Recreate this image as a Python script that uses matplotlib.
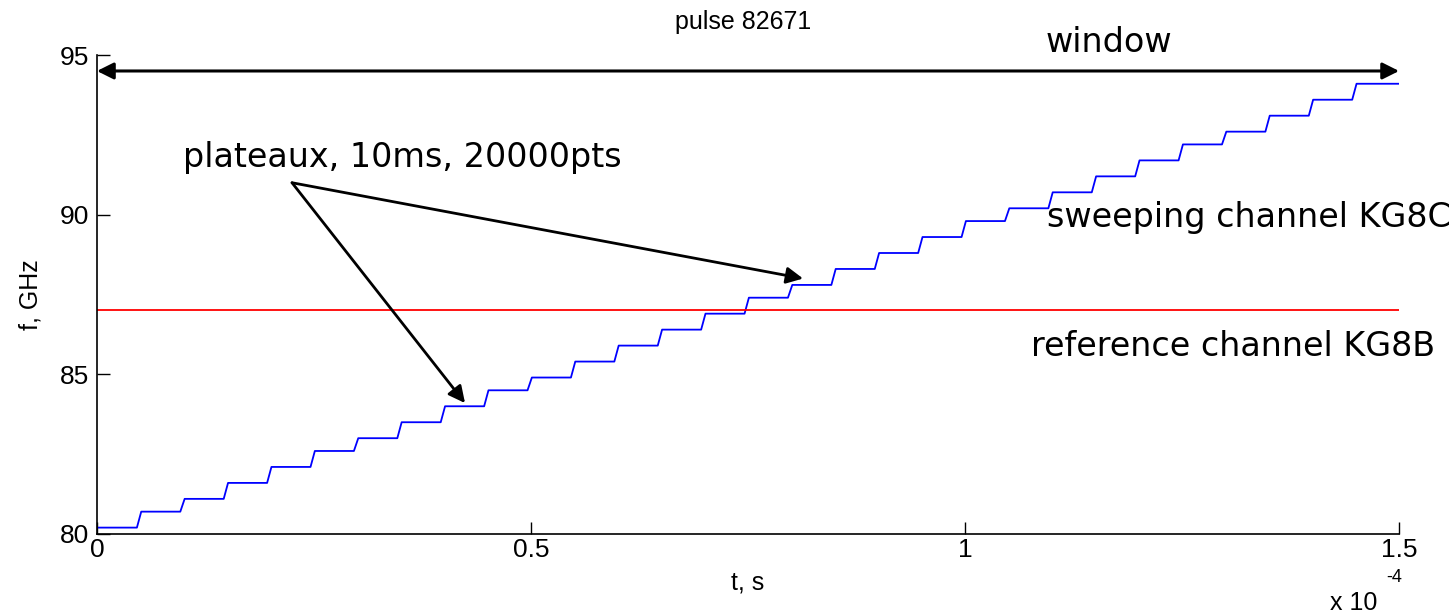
import matplotlib
matplotlib.use("Agg")
import matplotlib.pyplot as plt
import numpy as np

# ---- data ----
# plateau start times (microseconds) and frequency levels (GHz) of the sweeping channel
plateau_start_us = [0, 5, 10, 15, 20, 25, 30, 35, 40, 45,
                    50, 55, 60, 65, 70, 75, 80, 85, 90, 95,
                    100, 105, 110, 115, 120, 125, 130, 135, 140, 145]
plateau_level_ghz = [80.2, 80.7, 81.1, 81.6, 82.1, 82.6, 83.0, 83.5, 84.0, 84.5,
                     84.9, 85.4, 85.9, 86.4, 86.9, 87.4, 87.8, 88.3, 88.8, 89.3,
                     89.8, 90.2, 90.7, 91.2, 91.7, 92.2, 92.6, 93.1, 93.6, 94.1]
ramp_us = 0.5          # duration of each transition between plateaux
window_end_us = 150
reference_ghz = 87.0

x_ticks = [0, 0.5e-4, 1e-4, 1.5e-4]
x_ticklabels = ["0", "0.5", "1", "1.5"]
y_ticks = [80, 85, 90, 95]

# build the stair trace
t_pts, f_pts = [], []
for i, (ts, lv) in enumerate(zip(plateau_start_us, plateau_level_ghz)):
    start = ts + (0.2 if i == 0 else ramp_us * 0.2)
    end = plateau_start_us[i + 1] - ramp_us * 0.8 if i + 1 < len(plateau_start_us) else window_end_us
    t_pts += [start * 1e-6, end * 1e-6]
    f_pts += [lv, lv]

sans = "Liberation Sans"
hand = "DejaVu Sans"

fig = plt.figure(figsize=(14.56, 6.14), dpi=100)
ax = fig.add_axes([0.0666, 0.1303, 0.8943, 0.7801])

ax.plot(t_pts, f_pts, color="#0000ff", lw=1.3)
ax.plot([0, window_end_us * 1e-6], [reference_ghz, reference_ghz], color="#ff0000", lw=1.3)

ax.set_xlim(0, 1.5e-4)
ax.set_ylim(80, 95)
ax.set_xticks(x_ticks)
ax.set_xticklabels(x_ticklabels)
ax.set_yticks(y_ticks)
ax.tick_params(direction="in", length=9, width=1, labelsize=19,
               top=False, right=False)
ax.tick_params(axis="y", pad=6)
ax.tick_params(axis="x", pad=3)
for s in ["top", "right"]:
    ax.spines[s].set_visible(False)
for s in ["left", "bottom"]:
    ax.spines[s].set_linewidth(1.2)

ax.set_xlabel("t, s", fontsize=18, family=sans, labelpad=6)
ax.set_ylabel("f, GHz", fontsize=18, family=sans, labelpad=12)
for lab in ax.get_xticklabels() + ax.get_yticklabels():
    lab.set_family(sans)
fig.text(743 / 1456, 1 - 22 / 614, "pulse 82671", fontsize=18, family=sans,
         ha="center", va="center")

fig.text(1330 / 1456, 1 - 603 / 614, "x 10", fontsize=18, family=sans, ha="left", va="center")
fig.text(1386 / 1456, 1 - 577 / 614, "-4", fontsize=13, family=sans, ha="left", va="center")

# window arrow
ax.annotate("", xy=(1.5e-4, 94.5), xytext=(0, 94.5), xycoords="data",
            arrowprops=dict(arrowstyle="<|-|>", color="black", lw=2.2,
                            mutation_scale=25, shrinkA=0, shrinkB=0),
            annotation_clip=False)
fig.text(1109 / 1456, 1 - 42 / 614, "window", fontsize=24, family=hand, ha="center", va="center")

# plateau arrows
src = (0.2247e-4, 91.0)
for tip in [(0.8134e-4, 88.0), (0.424e-4, 84.1)]:
    ax.annotate("", xy=tip, xytext=src,
                arrowprops=dict(arrowstyle="-|>", color="black", lw=2,
                                mutation_scale=25, shrinkA=0, shrinkB=0))
fig.text(183 / 1456, 1 - 157 / 614, "plateaux, 10ms, 20000pts",
         fontsize=24, family=hand, ha="left", va="center")
fig.text(1047 / 1456, 1 - 218 / 614, "sweeping channel KG8C",
         fontsize=24, family=hand, ha="left", va="center")
fig.text(1031 / 1456, 1 - 347 / 614, "reference channel KG8B",
         fontsize=24, family=hand, ha="left", va="center")

fig.savefig("out.png", dpi=100)
